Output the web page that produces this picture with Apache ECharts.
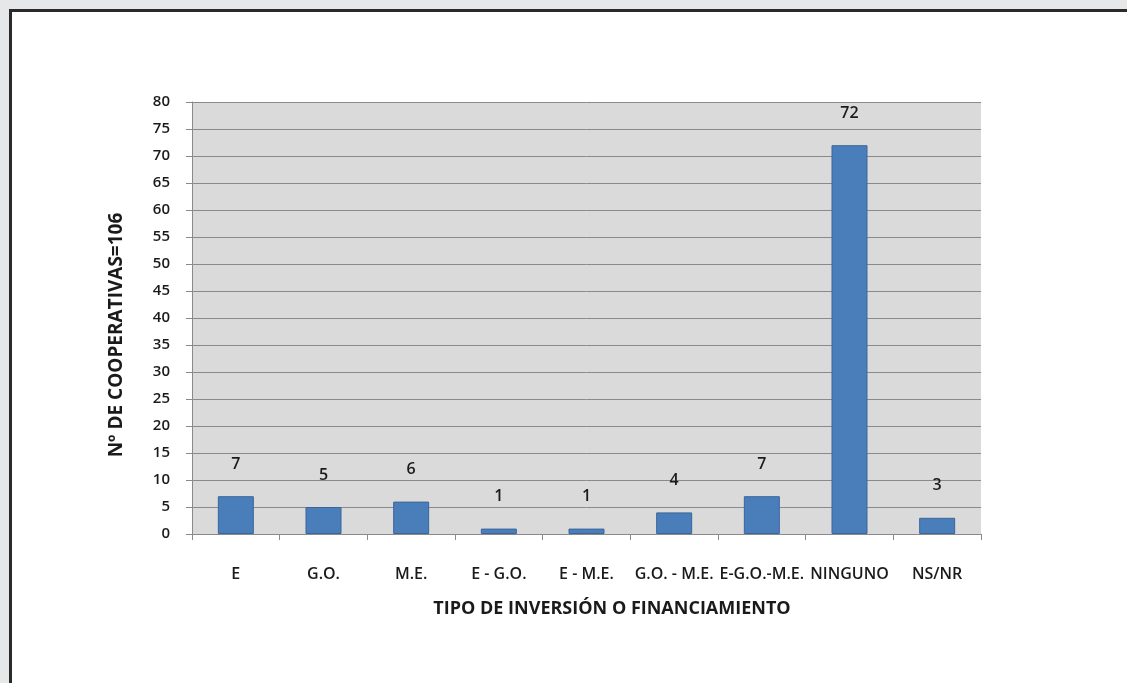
<!DOCTYPE html>
<html>
<head>
<meta charset="utf-8">
<script src="https://cdn.jsdelivr.net/npm/echarts@6/dist/echarts.min.js"></script>
<style>
  html, body { margin: 0; padding: 0; width: 1127px; height: 683px; background: #e6e7e8; overflow: hidden; }
  #panel { position: absolute; left: 9px; top: 9px; width: 1130px; height: 700px; background: #ffffff; border-left: 3px solid #2a2a2a; border-top: 3px solid #2a2a2a; }
  #chart { position: absolute; left: 0; top: 0; width: 1127px; height: 683px; }
</style>
</head>
<body>
<div id="panel"></div>
<div id="chart"></div>
<script>
const categories = ["E", "G.O.", "M.E.", "E - G.O.", "E - M.E.", "G.O. - M.E.", "E-G.O.-M.E.", "NINGUNO", "NS/NR"];
const values = [7, 5, 6, 1, 1, 4, 7, 72, 3];
const yTitle = "Nº DE COOPERATIVAS=106";
const xTitle = "TIPO DE INVERSIÓN O FINANCIAMIENTO";

const FONT = '"Open Sans", "Liberation Sans", sans-serif';
const chart = echarts.init(document.getElementById('chart'), null, { renderer: 'canvas' });
chart.setOption({
  backgroundColor: 'transparent',
  animation: false,
  grid: { left: 192, top: 102, width: 789, height: 432, show: true, backgroundColor: '#dadada', borderWidth: 0 },
  graphic: [
    { type: 'text', x: 117, y: 335, rotation: Math.PI / 2,
      style: { text: yTitle, fontFamily: FONT, fontSize: 19, fontWeight: 'bold', fill: '#1a1a1a', align: 'center', verticalAlign: 'middle' } },
    { type: 'text', x: 612, y: 609,
      style: { text: xTitle, fontFamily: FONT, fontSize: 18, fontWeight: 'bold', fill: '#1a1a1a', align: 'center', verticalAlign: 'middle' } }
  ],
  xAxis: {
    type: 'category',
    data: categories,
    axisLine: { lineStyle: { color: '#8a8a8a', width: 1 } },
    axisTick: { show: true, length: 6, lineStyle: { color: '#8a8a8a' } },
    axisLabel: { interval: 0, margin: 32, fontFamily: FONT, fontSize: 16, fontWeight: 600, color: '#1a1a1a' }
  },
  yAxis: {
    type: 'value',
    min: 0, max: 80, interval: 5,
    axisLine: { show: true, lineStyle: { color: '#8a8a8a', width: 1 } },
    axisTick: { show: true, length: 6, lineStyle: { color: '#8a8a8a' } },
    axisLabel: { margin: 22, fontFamily: FONT, fontSize: 15, fontWeight: 600, color: '#1a1a1a' },
    splitLine: { show: true, lineStyle: { color: '#8a8a8a', width: 1 } }
  },
  series: [{
    type: 'bar',
    data: values,
    barWidth: 36,
    itemStyle: { color: '#4a7ebb', borderColor: '#3a669a', borderWidth: 1 },
    label: { show: true, position: 'top', distance: 24, fontFamily: FONT, fontSize: 16, fontWeight: 600, color: '#1a1a1a' }
  }]
});
</script>
</body>
</html>
